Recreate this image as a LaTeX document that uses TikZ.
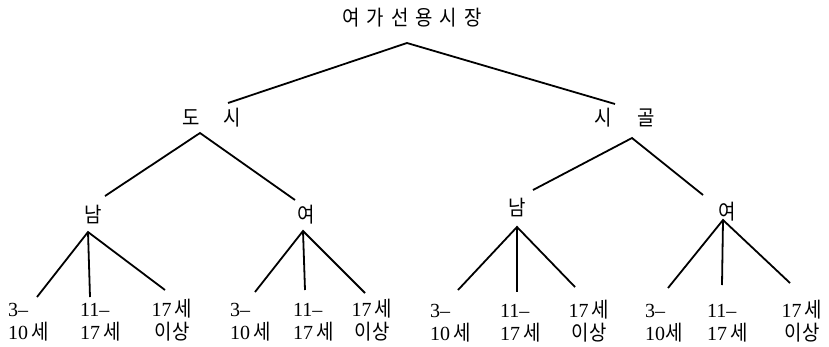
\documentclass[tikz,border=0pt]{standalone}
\usepackage{fontspec}
\setmainfont{Liberation Serif}
\newfontfamily\krfont[FakeStretch=0.9]{Noto Sans CJK KR}
\newcommand\rgap{\hspace{7pt}}
\newcommand\hk[1]{{\fontsize{21}{22}\selectfont\krfont #1}}
\begin{document}
\begin{tikzpicture}[x=1pt,y=-1pt,
  branch/.style={line width=1.8pt},
  kor/.style={font=\fontsize{21}{23}\selectfont\krfont, inner sep=0pt},
  leaf/.style={font=\fontsize{20}{22}\selectfont, inner sep=0pt}]
\useasboundingbox (0,0) rectangle (829,346);
% labels
\node[kor] (root) at (412,18) {여\rgap 가\rgap 선\rgap 용\rgap 시\rgap 장};
\node[kor] (dosi) at (212,118) {도\hspace{24pt}시};
\node[kor] (sigol) at (625,118) {시\hspace{26pt}골};
\node[kor] (nam1) at (93,215) {남};
\node[kor] (yeo1) at (306,215) {여};
\node[kor] (nam2) at (517,208) {남};
\node[kor] (yeo2) at (727,212) {여};
% leaves
\node[leaf, anchor=base west] (a1) at (8,316) {\begin{tabular}[t]{@{}l@{}}3--\\10\,\hk{세}\end{tabular}};
\node[leaf, anchor=base west] (a2) at (80,316) {\begin{tabular}[t]{@{}l@{}}11--\\17\,\hk{세}\end{tabular}};
\node[leaf, anchor=base] (a3) at (172,316) {\begin{tabular}[t]{@{}c@{}}17\,\hk{세}\\\hk{이상}\end{tabular}};
\node[leaf, anchor=base west] (b1) at (230,316) {\begin{tabular}[t]{@{}l@{}}3--\\10\,\hk{세}\end{tabular}};
\node[leaf, anchor=base west] (b2) at (293,316) {\begin{tabular}[t]{@{}l@{}}11--\\17\,\hk{세}\end{tabular}};
\node[leaf, anchor=base] (b3) at (372,316) {\begin{tabular}[t]{@{}c@{}}17\,\hk{세}\\\hk{이상}\end{tabular}};
\node[leaf, anchor=base west] (c1) at (430,317) {\begin{tabular}[t]{@{}l@{}}3--\\10\,\hk{세}\end{tabular}};
\node[leaf, anchor=base west] (c2) at (500,317) {\begin{tabular}[t]{@{}l@{}}11--\\17\,\hk{세}\end{tabular}};
\node[leaf, anchor=base] (c3) at (589,317) {\begin{tabular}[t]{@{}c@{}}17\,\hk{세}\\\hk{이상}\end{tabular}};
\node[leaf, anchor=base west] (d1) at (645,317) {\begin{tabular}[t]{@{}l@{}}3--\\10\hk{세}\end{tabular}};
\node[leaf, anchor=base west] (d2) at (707,317) {\begin{tabular}[t]{@{}l@{}}11--\\17\,\hk{세}\end{tabular}};
\node[leaf, anchor=base] (d3) at (802,317) {\begin{tabular}[t]{@{}c@{}}17\,\hk{세}\\\hk{이상}\end{tabular}};
% connector points
\coordinate (rootA) at (407,43);
\coordinate (dosiT) at (228,103);  \coordinate (dosiA) at (200,133);
\coordinate (sigolT) at (615,104); \coordinate (sigolA) at (632,138);
\coordinate (nam1T) at (105,196);  \coordinate (nam1A) at (88,232);
\coordinate (yeo1T) at (295,200);  \coordinate (yeo1A) at (303,231);
\coordinate (nam2T) at (533,190);  \coordinate (nam2A) at (517,227);
\coordinate (yeo2T) at (703,195);  \coordinate (yeo2A) at (723,220);
\coordinate (a1T) at (37,297);  \coordinate (a2T) at (90,297);  \coordinate (a3T) at (165,290);
\coordinate (b1T) at (255,292); \coordinate (b2T) at (305,290); \coordinate (b3T) at (365,293);
\coordinate (c1T) at (458,290); \coordinate (c2T) at (517,292); \coordinate (c3T) at (575,287);
\coordinate (d1T) at (668,288); \coordinate (d2T) at (722,285); \coordinate (d3T) at (790,283);
% connectors
\draw[branch] (dosiT) -- (rootA) -- (sigolT);
\draw[branch] (nam1T) -- (dosiA) -- (yeo1T);
\draw[branch] (nam2T) -- (sigolA) -- (yeo2T);
\draw[branch] (a1T) -- (nam1A) -- (a3T); \draw[branch] (nam1A) -- (a2T);
\draw[branch] (b1T) -- (yeo1A) -- (b3T); \draw[branch] (yeo1A) -- (b2T);
\draw[branch] (c1T) -- (nam2A) -- (c3T); \draw[branch] (nam2A) -- (c2T);
\draw[branch] (d1T) -- (yeo2A) -- (d3T); \draw[branch] (yeo2A) -- (d2T);
\end{tikzpicture}
\end{document}
